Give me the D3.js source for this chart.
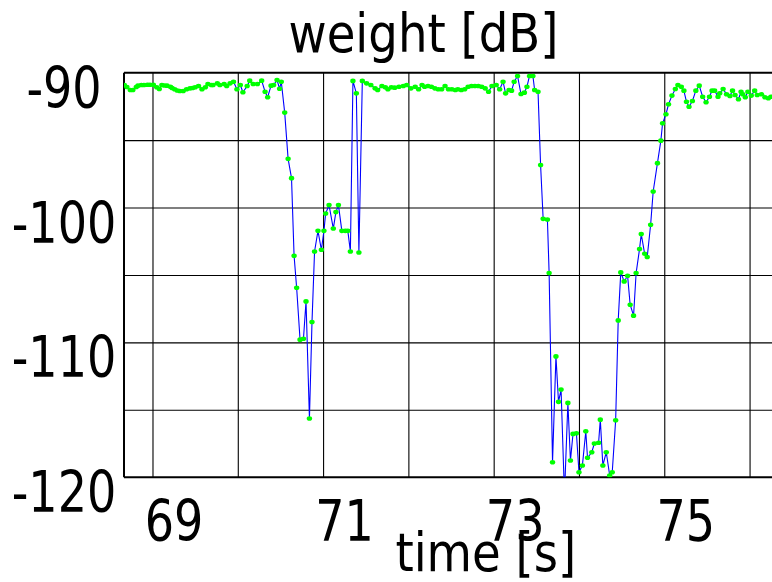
<!DOCTYPE html>
<html>
<head>
<meta charset="utf-8">
<script src="https://cdn.jsdelivr.net/npm/d3@7/dist/d3.min.js"></script>
<style>
  html, body { margin: 0; padding: 0; background: #fff; }
  svg { display: block; }
  text { font-family: "DejaVu Sans", sans-serif; fill: #000; }
</style>
</head>
<body>
<svg id="chart" width="772" height="582"></svg>
<script>
// Sample times (s)
const times = [
  68.67, 68.70, 68.74, 68.77, 68.81, 68.83, 68.87, 68.90, 68.94, 68.97,
  69.01, 69.05, 69.08, 69.11, 69.14, 69.17, 69.21, 69.23, 69.26, 69.29,
  69.32, 69.36, 69.40, 69.44, 69.47, 69.50, 69.54, 69.58, 69.62, 69.65,
  69.69, 69.71, 69.76, 69.79, 69.84, 69.87, 69.91, 69.95, 69.99, 70.03,
  70.06, 70.11, 70.14, 70.18, 70.23, 70.28, 70.32, 70.35, 70.39, 70.42,
  70.46, 70.49, 70.51, 70.55, 70.59, 70.63, 70.66, 70.69, 70.73, 70.77,
  70.80, 70.84, 70.87, 70.90, 70.94, 70.98, 71.01, 71.03, 71.07, 71.12,
  71.15, 71.18, 71.22, 71.26, 71.29, 71.32, 71.35, 71.39, 71.42, 71.46,
  71.51, 71.56, 71.61, 71.64, 71.69, 71.73, 71.76, 71.80, 71.84, 71.89,
  71.94, 71.98, 72.03, 72.08, 72.12, 72.16, 72.19, 72.23, 72.27, 72.31,
  72.35, 72.39, 72.43, 72.47, 72.51, 72.55, 72.58, 72.62, 72.66, 72.70,
  72.74, 72.78, 72.82, 72.86, 72.90, 72.94, 72.98, 73.03, 73.07, 73.11,
  73.14, 73.18, 73.21, 73.24, 73.28, 73.32, 73.36, 73.39, 73.42, 73.46,
  73.48, 73.52, 73.55, 73.58, 73.63, 73.65, 73.69, 73.73, 73.76, 73.79,
  73.83, 73.87, 73.90, 73.93, 73.97, 74.00, 74.04, 74.08, 74.10, 74.15,
  74.18, 74.23, 74.25, 74.28, 74.32, 74.36, 74.39, 74.43, 74.46, 74.49,
  74.53, 74.57, 74.60, 74.64, 74.67, 74.71, 74.73, 74.77, 74.80, 74.84,
  74.87, 74.92, 74.96, 74.98, 75.02, 75.05, 75.09, 75.13, 75.16, 75.20,
  75.23, 75.26, 75.29, 75.33, 75.37, 75.41, 75.45, 75.49, 75.53, 75.56,
  75.59, 75.63, 75.65, 75.69, 75.73, 75.77, 75.80, 75.83, 75.87, 75.90,
  75.92, 75.95, 75.98, 76.02, 76.06, 76.09, 76.14, 76.18, 76.22, 76.25
];

// Weight at each sample (dB)
const weights = [
  -90.91, -91.06, -91.28, -91.28, -91.06, -90.96, -90.91, -90.91, -90.89, -90.89,
  -90.89, -91.08, -91.21, -90.91, -90.95, -90.96, -91.04, -91.13, -91.23, -91.32,
  -91.36, -91.36, -91.23, -91.16, -91.13, -91.08, -90.99, -91.23, -91.08, -90.84,
  -90.91, -90.91, -90.79, -90.91, -90.84, -90.99, -90.79, -90.67, -91.23, -90.91,
  -91.45, -90.99, -90.59, -90.84, -90.84, -90.59, -91.41, -91.82, -90.96, -90.91,
  -90.54, -91.19, -90.67, -92.96, -96.39, -97.82, -103.58, -105.95, -109.80, -109.73,
  -106.96, -115.65, -108.49, -103.26, -101.73, -103.13, -101.73, -100.44, -99.82, -101.56,
  -100.34, -99.82, -101.73, -101.73, -101.73, -103.26, -90.61, -91.53, -103.33, -90.61,
  -90.79, -90.91, -91.16, -91.28, -90.99, -91.08, -91.23, -91.08, -91.11, -91.04,
  -90.99, -90.91, -91.16, -91.04, -91.23, -90.91, -91.04, -90.99, -91.04, -91.16,
  -91.23, -91.23, -90.99, -91.23, -91.23, -91.28, -91.23, -91.28, -91.23, -91.04,
  -90.99, -90.99, -90.99, -91.04, -91.16, -91.41, -90.99, -90.91, -91.23, -90.67,
  -91.53, -91.28, -91.33, -90.67, -90.24, -91.58, -91.48, -91.04, -90.24, -90.24,
  -91.28, -91.41, -96.84, -100.84, -100.89, -104.86, -118.89, -111.04, -114.41, -113.50,
  -121.30, -114.49, -118.76, -116.79, -116.74, -119.63, -119.13, -116.59, -118.56, -118.15,
  -117.50, -117.45, -115.73, -119.13, -118.15, -119.87, -119.63, -115.78, -108.37, -104.81,
  -105.48, -105.06, -107.21, -108.02, -104.86, -103.08, -101.97, -103.43, -103.67, -101.28,
  -98.81, -96.71, -95.04, -93.75, -93.08, -92.34, -91.70, -91.21, -90.91, -91.04,
  -91.33, -92.15, -92.52, -92.10, -91.33, -90.96, -91.78, -92.19, -91.78, -91.33,
  -91.33, -91.78, -91.53, -91.21, -91.60, -91.73, -91.33, -91.65, -91.97, -91.41,
  -91.60, -91.82, -91.41, -91.70, -91.33, -91.65, -91.60, -91.82, -91.90, -91.78
];

// Labelled ticks and grid positions
const xTickValues = [69, 71, 73, 75];
const yTickValues = [-90, -100, -110, -120];
const gridTimes = [69, 70, 71, 72, 73, 74, 75, 76];
const gridWeights = [-95, -100, -105, -110, -115];

const titleText = "weight [dB]";
const xLabelText = "time [s]";

const svg = d3.select("#chart");
const plotLeft = 124, plotRight = 772, plotTop = 72.7, plotBottom = 477.2;

const x = d3.scaleLinear().domain([68.666, 76.263]).range([plotLeft, plotRight]);
const y = d3.scaleLinear().domain([-120, -90]).range([plotBottom, plotTop]);

const data = times.map((t, i) => ({ t, w: weights[i] }));

// Plain ASCII hyphen for negative numbers
const plainNumber = d => String(d);

// Clip for the plotting area
svg.append("defs").append("clipPath").attr("id", "plot-clip")
  .append("rect")
  .attr("x", plotLeft).attr("y", plotTop)
  .attr("width", plotRight - plotLeft).attr("height", plotBottom - plotTop);

// Grid lines
svg.append("g")
  .attr("transform", `translate(0,${plotBottom})`)
  .call(d3.axisBottom(x).tickValues(gridTimes).tickSize(-(plotBottom - plotTop)).tickFormat(""))
  .call(g => g.select(".domain").remove())
  .call(g => g.selectAll("line").attr("stroke", "#000").attr("stroke-width", 1.1));

svg.append("g")
  .attr("transform", `translate(${plotLeft},0)`)
  .call(d3.axisLeft(y).tickValues(gridWeights).tickSize(-(plotRight - plotLeft)).tickFormat(""))
  .call(g => g.select(".domain").remove())
  .call(g => g.selectAll("line").attr("stroke", "#000").attr("stroke-width", 1.1));

// Frame: top, left, bottom
const frame = svg.append("g").attr("stroke", "#000").attr("stroke-width", 2);
frame.append("line").attr("x1", plotLeft).attr("x2", plotRight).attr("y1", y(-90)).attr("y2", y(-90));
frame.append("line").attr("x1", plotLeft).attr("x2", plotRight).attr("y1", y(-120)).attr("y2", y(-120));
frame.append("line").attr("x1", plotLeft).attr("x2", plotLeft).attr("y1", y(-90)).attr("y2", y(-120));

// Series: line and markers
const plot = svg.append("g").attr("clip-path", "url(#plot-clip)");
plot.append("path")
  .datum(data)
  .attr("fill", "none")
  .attr("stroke", "#0000ff")
  .attr("stroke-width", 1.1)
  .attr("d", d3.line().x(d => x(d.t)).y(d => y(d.w)));

plot.selectAll("ellipse")
  .data(data)
  .join("ellipse")
  .attr("cx", d => x(d.t))
  .attr("cy", d => y(d.w))
  .attr("rx", 2.7)
  .attr("ry", 2.3)
  .attr("fill", "#00ff00");

// Tick labels (narrow digits)
const tickFont = 57.6, squeeze = 0.8;

svg.append("g")
  .attr("transform", `translate(0,${plotBottom})`)
  .call(d3.axisBottom(x).tickValues(xTickValues).tickSize(0).tickFormat(plainNumber))
  .call(g => g.select(".domain").remove())
  .call(g => g.selectAll("text")
    .attr("x", 0).attr("y", 0).attr("dy", null)
    .attr("fill", "#000")
    .attr("font-family", "DejaVu Sans")
    .attr("font-size", tickFont)
    .attr("text-anchor", "middle")
    .attr("transform", `translate(21,64) scale(${squeeze},1)`));

svg.append("g")
  .call(d3.axisLeft(y).tickValues(yTickValues).tickSize(0).tickFormat(plainNumber))
  .call(g => g.select(".domain").remove())
  .call(g => g.selectAll("text")
    .attr("x", 0).attr("y", 0).attr("dy", null)
    .attr("fill", "#000")
    .attr("font-family", "DejaVu Sans")
    .attr("font-size", tickFont)
    .attr("text-anchor", "middle")
    .attr("transform", `translate(64,34.5) scale(${squeeze},1)`));

// Titles
const labelFont = 53, labelSqueeze = 0.88;

svg.append("text")
  .attr("text-anchor", "middle")
  .attr("font-size", labelFont)
  .attr("transform", `translate(423.5,52) scale(${labelSqueeze},1)`)
  .text(titleText);

svg.append("text")
  .attr("text-anchor", "middle")
  .attr("font-size", labelFont)
  .attr("transform", `translate(485.8,571) scale(${labelSqueeze},1)`)
  .text(xLabelText);
</script>
</body>
</html>
